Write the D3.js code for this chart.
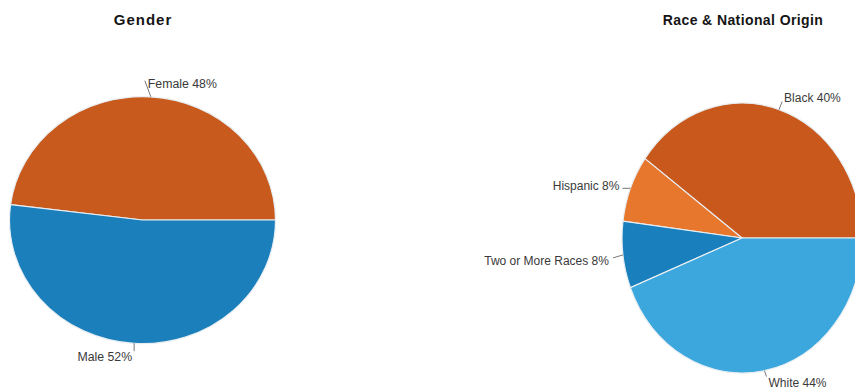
<!DOCTYPE html>
<html lang="en">
<head>
<meta charset="utf-8">
<title>Gender / Race pies</title>
<script src="https://cdn.jsdelivr.net/npm/d3@7"></script>
<style>
html,body{margin:0;padding:0;background:#fff}
svg{display:block;font-family:"Liberation Sans",Arial,sans-serif}
</style>
</head>
<body>
<div id="chart"></div>
<script>
// data
var genderLabels=["Female","Male"];
var genderValues=[48,52];
var genderColors=["#c95a1e","#1a7fba"];

var raceLabels=["Black","Hispanic","Two or More Races","White"];
var raceValues=[40,8,8,44];
var raceColors=["#c9581c","#e8772e","#1a80bd","#3ba7dd"];

var W=855,H=392;
var svg=d3.select("#chart").append("svg").attr("width",W).attr("height",H);

// each pie is slightly squashed in the scan, so rx/ry differ
var panels=[
    {title:"Gender",labels:genderLabels,values:genderValues,colors:genderColors,
     cx:142.5,cy:220,rx:133,ry:123.5,titleX:143,titleSize:15,titleSpace:1,
     labelPos:[{dx:-6,dy:-16,anchor:"start",tx:3,ty:7,lab:12.3},{dx:0,dy:8,anchor:"end",tx:-2,ty:10,lab:12.3}]},
    {title:"Race & National Origin",labels:raceLabels,values:raceValues,colors:raceColors,
     cx:742,cy:238,rx:120,ry:135,titleX:743,titleSize:14,titleSpace:0.4,
     labelPos:[{dx:3,dy:-8,anchor:"start",tx:2,ty:0,lab:12},{dx:-8,dy:0,anchor:"end",tx:-3,ty:2,lab:12},
               {dx:-10,dy:3,anchor:"end",tx:-4,ty:7,lab:12},{dx:2,dy:6,anchor:"start",tx:2,ty:10,lab:12}]}
];

var pie=d3.pie().sort(null).startAngle(Math.PI/2).endAngle(Math.PI/2-2*Math.PI);

panels.forEach(function(p){
    var arcs=pie(p.values);
    var arc=d3.arc().innerRadius(0).outerRadius(1);
    var g=svg.append("g")
        .attr("transform","translate("+p.cx+","+p.cy+") scale("+p.rx+","+p.ry+")");
    g.selectAll("path").data(arcs).enter().append("path")
        .attr("d",arc)
        .attr("fill",function(d,i){return p.colors[i]})
        .attr("stroke","#e8eef2")
        .attr("stroke-width",1.2)
        .attr("vector-effect","non-scaling-stroke");

    svg.append("text")
        .attr("x",p.titleX).attr("y",25)
        .attr("text-anchor","middle")
        .attr("font-weight","bold")
        .attr("font-size",p.titleSize)
        .attr("letter-spacing",p.titleSpace)
        .attr("fill","#151515")
        .text(p.title);

    arcs.forEach(function(d,i){
        var a=(d.startAngle+d.endAngle)/2;
        var x0=p.cx+p.rx*Math.sin(a), y0=p.cy-p.ry*Math.cos(a);
        var lp=p.labelPos[i];
        var x1=x0+lp.dx, y1=y0+lp.dy;
        svg.append("line")
            .attr("x1",x0).attr("y1",y0).attr("x2",x1).attr("y2",y1)
            .attr("stroke","#555").attr("stroke-width",0.8);
        svg.append("text")
            .attr("x",x1+lp.tx).attr("y",y1+lp.ty)
            .attr("text-anchor",lp.anchor)
            .attr("font-size",lp.lab)
            .attr("fill","#3a3a3a")
            .text(p.labels[i]+" "+p.values[i]+"%");
    });
});
</script>
</body>
</html>
